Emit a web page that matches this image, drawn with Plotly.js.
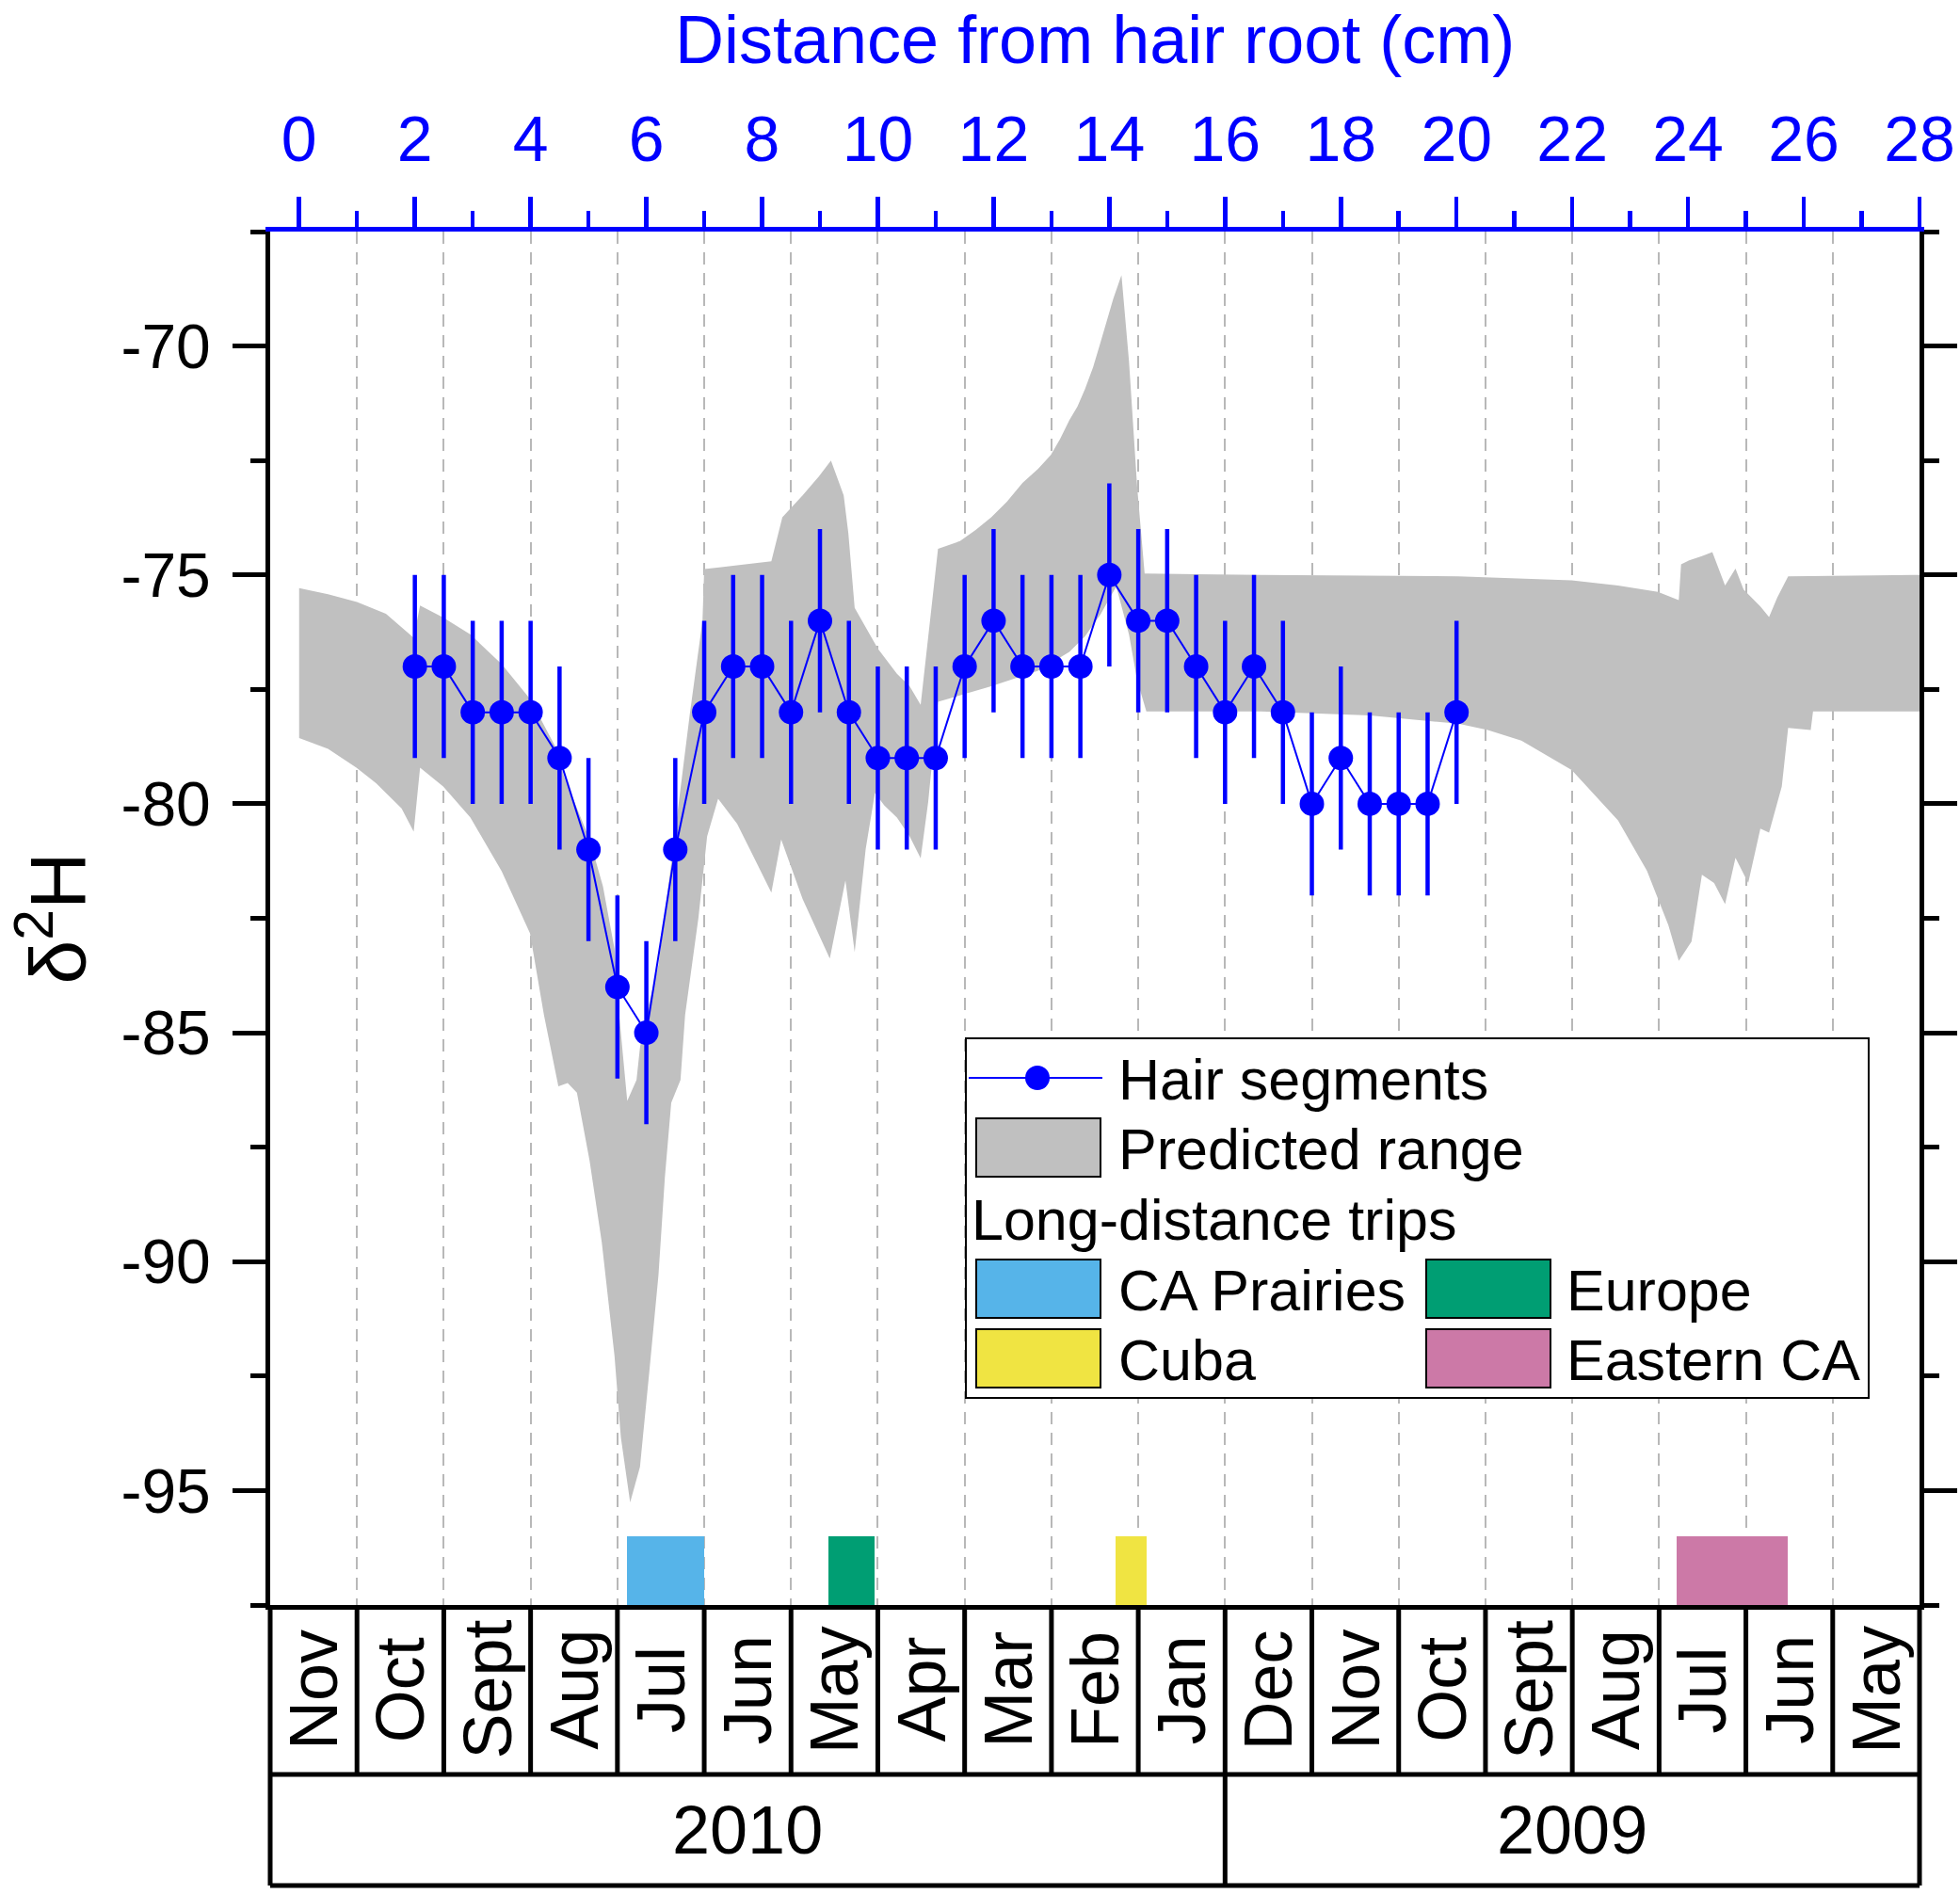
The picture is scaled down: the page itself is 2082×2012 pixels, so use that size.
<!DOCTYPE html>
<html><head><meta charset="utf-8">
<script src="https://cdn.plot.ly/plotly-3.0.1.min.js"></script>
<style>body{margin:0;background:#fff}</style>
</head><body>
<div id="chart" style="width:2082px;height:2012px"></div>
<script>
// ---------------- data ----------------
const segX = [2,2.5,3,3.5,4,4.5,5,5.5,6,6.5,7,7.5,8,8.5,9,9.5,10,10.5,11,11.5,12,12.5,13,13.5,14,14.5,15,15.5,16,16.5,17,17.5,18,18.5,19,19.5,20];
const segY = [-77,-77,-78,-78,-78,-79,-81,-84,-85,-81,-78,-77,-77,-78,-76,-78,-79,-79,-79,-77,-76,-77,-77,-77,-75,-76,-76,-77,-78,-77,-78,-80,-79,-80,-80,-80,-78];
const segErr = [2,2,2,2,2,2,2,2,2,2,2,2,2,2,2,2,2,2,2,2,2,2,2,2,2,2,2,2,2,2,2,2,2,2,2,2,2];

const bandUpperX = [0,0.5,1.0,1.5,1.98,2.09,2.49,2.96,3.5,3.99,4.42,4.58,5.02,5.25,5.45,5.53,5.67,5.83,5.89,6.0,6.21,6.48,6.75,6.97,7.0,7.5,8.16,8.35,8.7,8.98,9.19,9.41,9.49,9.6,9.79,10.0,10.33,10.55,10.74,11.04,11.42,11.69,11.96,12.23,12.5,12.77,12.99,13.15,13.31,13.45,13.58,13.72,13.85,13.96,14.07,14.21,14.34,14.48,14.61,16.62,20.03,21.99,22.79,23.48,23.84,23.88,24.02,24.24,24.42,24.64,24.82,24.96,25.25,25.4,25.54,25.73,28];
const bandUpperY = [-75.29,-75.42,-75.59,-75.85,-76.37,-75.67,-75.93,-76.30,-76.95,-77.71,-78.73,-79.41,-80.78,-81.8,-83.17,-84.61,-86.49,-86.03,-85.32,-84.61,-83.52,-80.78,-78.05,-76.0,-74.87,-74.8,-74.70,-73.74,-73.26,-72.85,-72.50,-73.26,-74.08,-75.72,-76.13,-76.61,-77.16,-77.43,-77.84,-74.43,-74.26,-74.02,-73.74,-73.4,-72.99,-72.68,-72.38,-72.03,-71.62,-71.32,-70.94,-70.46,-69.91,-69.44,-68.96,-68.45,-70.33,-73.06,-74.97,-75.0,-75.03,-75.12,-75.23,-75.37,-75.55,-74.77,-74.68,-74.59,-74.5,-75.23,-74.86,-75.32,-75.69,-75.92,-75.5,-75.03,-75.0];
const bandLowerX = [0,0.5,0.99,1.33,1.77,1.98,2.09,2.49,2.96,3.5,3.99,4.23,4.48,4.64,4.8,5.02,5.23,5.45,5.56,5.72,5.89,6.05,6.21,6.32,6.43,6.59,6.67,6.9,7.05,7.24,7.57,7.84,8.16,8.33,8.7,9.17,9.44,9.6,9.79,9.95,10.11,10.33,10.55,10.74,10.87,11.04,11.96,12.77,13.31,13.58,13.85,14.12,14.34,14.48,14.64,16.62,18.5,20.03,20.54,21.12,21.99,22.79,23.29,23.66,23.84,24.06,24.24,24.45,24.64,24.82,25.04,25.25,25.4,25.62,25.73,26.12,26.16,28];
const bandLowerY = [-78.56,-78.8,-79.21,-79.55,-80.10,-80.61,-79.21,-79.62,-80.30,-81.47,-82.83,-84.61,-86.17,-86.10,-86.31,-87.8,-89.58,-92.06,-93.84,-95.26,-94.48,-92.42,-90.29,-88.16,-86.53,-86.03,-84.61,-82.49,-80.71,-79.89,-80.44,-81.12,-81.94,-80.78,-82.08,-83.38,-81.67,-83.24,-80.99,-79.76,-80.03,-80.3,-80.71,-81.19,-79.96,-77.77,-77.43,-77.09,-76.68,-76.34,-75.86,-75.25,-76.3,-77.3,-77.98,-77.98,-78.07,-78.25,-78.39,-78.62,-79.26,-80.36,-81.46,-82.65,-83.43,-83.01,-81.55,-81.73,-82.19,-81.18,-81.73,-80.54,-80.63,-79.62,-78.34,-78.39,-77.98,-77.98];

const tripNames = ['CA Prairies','Europe','Cuba','Eastern CA'];
const tripStart = [5.66, 9.14, 14.1, 23.8];
const tripEnd = [7.0, 9.95, 14.65, 25.72];
const tripTop = [-96, -96, -96, -96];
const tripColors = ['#56B4E9','#009E73','#F0E442','#CC79A7'];

const monthLabels = ['Nov','Oct','Sept','Aug','Jul','Jun','May','Apr','Mar','Feb','Jan','Dec','Nov','Oct','Sept','Aug','Jul','Jun','May'];
const yearLabels = ['2010','2009'];
const yearMonthCounts = [11, 8];
const yTickVals = [-95, -90, -85, -80, -75, -70];
const yTickText = ['-95', '-90', '-85', '-80', '-75', '-70'];
const topTickVals = [0, 2, 4, 6, 8, 10, 12, 14, 16, 18, 20, 22, 24, 26, 28];

// ---------------- layout geometry ----------------
const W = 2082, H = 2012;
const L = 287, R = 2039, T = 246, B = 1705;
const xMin = -0.5, xMax = 28, yMin = -97.5, yMax = -67.5;
const monthWidth = 1.5;
const px2x = p => (p - L) / (R - L);
const px2y = p => (B - p) / (B - T);
const cm2paper = c => (c - xMin) / (xMax - xMin);
const FONT = '"Liberation Sans", Arial, sans-serif';
const BLUE = '#0000ff';

// ---------------- traces ----------------
const band = {
  x: bandUpperX.concat(bandLowerX.slice().reverse()),
  y: bandUpperY.concat(bandLowerY.slice().reverse()),
  type: 'scatter', mode: 'lines', fill: 'toself', fillcolor: '#c0c0c0',
  line: {width: 0, color: 'rgba(0,0,0,0)'}, hoverinfo: 'skip', showlegend: false
};
const trips = {
  type: 'bar',
  x: tripStart.map((s, i) => (s + tripEnd[i]) / 2),
  width: tripStart.map((s, i) => tripEnd[i] - s),
  base: tripTop.map(() => yMin),
  y: tripTop.map(t => t - yMin),
  marker: {color: tripColors, line: {width: 0}},
  hoverinfo: 'skip', showlegend: false
};
const seg = {
  x: segX, y: segY, type: 'scatter', mode: 'lines+markers',
  line: {color: BLUE, width: 2},
  marker: {color: BLUE, size: 26},
  error_y: {type: 'data', array: segErr, visible: true, color: BLUE, thickness: 4.5, width: 0},
  showlegend: false
};
const topDummy = {x: [0, 28], y: [yMin, yMin], xaxis: 'x2', yaxis: 'y', mode: 'markers',
  marker: {opacity: 0, size: 1}, hoverinfo: 'skip', showlegend: false};

// ---------------- shapes: month table ----------------
const shapes = [];
const rowMonthBottom = px2y(1885), rowYearBottom = px2y(2003);
const lineStyle = {color: '#000', width: 5};
let b = xMin;
const boundaries = [xMin];
for (let i = 0; i < monthLabels.length; i++) { b += monthWidth; boundaries.push(b); }
boundaries.forEach((c, i) => {
  const full = (i === 0 || i === boundaries.length - 1 || i === yearMonthCounts[0]);
  shapes.push({type: 'line', xref: 'paper', yref: 'paper', x0: cm2paper(c), x1: cm2paper(c),
    y0: 0, y1: full ? rowYearBottom : rowMonthBottom, line: lineStyle});
});
shapes.push({type: 'line', xref: 'paper', yref: 'paper', x0: 0, x1: 1, y0: rowMonthBottom, y1: rowMonthBottom, line: lineStyle});
shapes.push({type: 'line', xref: 'paper', yref: 'paper', x0: 0, x1: 1, y0: rowYearBottom, y1: rowYearBottom, line: lineStyle});

// ---------------- annotations ----------------
const ann = [];
monthLabels.forEach((m, i) => {
  ann.push({x: xMin + monthWidth * (i + 0.5), xref: 'x', y: px2y(1795), yref: 'paper',
    text: m, showarrow: false, textangle: -90, font: {family: FONT, size: 72, color: '#000'},
    xanchor: 'center', yanchor: 'middle'});
});
let startIdx = 0;
yearLabels.forEach((yl, i) => {
  const c0 = xMin + startIdx * monthWidth, c1 = c0 + yearMonthCounts[i] * monthWidth;
  startIdx += yearMonthCounts[i];
  ann.push({x: (c0 + c1) / 2, xref: 'x', y: px2y(1944), yref: 'paper', text: yl, showarrow: false,
    font: {family: FONT, size: 72, color: '#000'}, xanchor: 'center', yanchor: 'middle'});
});
ann.push({x: 0.5, xref: 'paper', y: px2y(0), yref: 'paper', text: 'Distance from hair root (cm)',
  showarrow: false, font: {family: FONT, size: 72, color: BLUE}, xanchor: 'center', yanchor: 'top'});
ann.push({x: px2x(55), xref: 'paper', y: 0.5, yref: 'paper', text: 'δ<sup>2</sup>H', textangle: -90,
  showarrow: false, font: {family: FONT, size: 84, color: '#000'}, xanchor: 'center', yanchor: 'middle'});

// ---------------- custom legend ----------------
const LF = {family: FONT, size: 61, color: '#000'};
shapes.push({type: 'rect', xref: 'paper', yref: 'paper', x0: px2x(1026), x1: px2x(1985), y0: px2y(1485), y1: px2y(1103),
  line: {color: '#000', width: 2}, fillcolor: '#fff', layer: 'above'});
shapes.push({type: 'line', xref: 'paper', yref: 'paper', x0: px2x(1029), x1: px2x(1171), y0: px2y(1145), y1: px2y(1145),
  line: {color: BLUE, width: 2}});
shapes.push({type: 'circle', xref: 'paper', yref: 'paper', x0: px2x(1089), x1: px2x(1115), y0: px2y(1158), y1: px2y(1132),
  line: {color: BLUE, width: 0}, fillcolor: BLUE});
const swatch = (x0, x1, yc, color) => shapes.push({type: 'rect', xref: 'paper', yref: 'paper',
  x0: px2x(x0), x1: px2x(x1), y0: px2y(yc + 31), y1: px2y(yc - 31), line: {color: '#000', width: 2}, fillcolor: color});
const ltext = (xp, yc, t) => ann.push({x: px2x(xp), xref: 'paper', y: px2y(yc), yref: 'paper', text: t,
  showarrow: false, font: LF, xanchor: 'left', yanchor: 'middle'});
ltext(1186, 1147, 'Hair segments');
swatch(1037, 1169, 1219, '#c0c0c0'); ltext(1186, 1221, 'Predicted range');
ltext(1030, 1296, 'Long-distance trips');
swatch(1037, 1169, 1369, tripColors[0]); ltext(1186, 1371, tripNames[0]);
swatch(1515, 1647, 1369, tripColors[1]); ltext(1662, 1371, tripNames[1]);
swatch(1037, 1169, 1443, tripColors[2]); ltext(1186, 1445, tripNames[2]);
swatch(1515, 1647, 1443, tripColors[3]); ltext(1662, 1445, tripNames[3]);

// ---------------- layout ----------------
const layout = {
  width: W, height: H,
  margin: {l: L, r: W - R, t: T, b: H - B, pad: 0},
  paper_bgcolor: '#fff', plot_bgcolor: '#fff',
  showlegend: false, bargap: 0,
  font: {family: FONT, color: '#000'},
  xaxis: {range: [xMin, xMax], tickmode: 'linear', tick0: 1, dtick: 1.5,
    showgrid: true, gridcolor: '#b8b8b8', gridwidth: 2, griddash: '13px,9px',
    showticklabels: false, ticks: '', zeroline: false,
    showline: true, linecolor: '#000', linewidth: 5, layer: 'below traces'},
  xaxis2: {range: [xMin, xMax], overlaying: 'x', side: 'top', anchor: 'y',
    tickmode: 'array', tickvals: topTickVals, ticktext: topTickVals.map(String),
    ticks: 'outside', ticklen: 32, tickwidth: 4.5, tickcolor: BLUE,
    minor: {dtick: 1, tick0: 0, ticks: 'outside', ticklen: 17, tickwidth: 4.5, tickcolor: BLUE},
    showline: true, linecolor: BLUE, linewidth: 5, showgrid: false, zeroline: false,
    tickfont: {family: FONT, size: 68, color: BLUE}, ticklabelstandoff: 11},
  yaxis: {range: [yMin, yMax], tickmode: 'array', tickvals: yTickVals, ticktext: yTickText,
    ticks: 'outside', ticklen: 35, tickwidth: 5, tickcolor: '#000',
    minor: {dtick: 2.5, tick0: -70, ticks: 'outside', ticklen: 16, tickwidth: 5, tickcolor: '#000'},
    showline: true, linecolor: '#000', linewidth: 5, mirror: 'ticks',
    showgrid: false, zeroline: false,
    tickfont: {family: FONT, size: 66, color: '#000'}, ticklabelstandoff: 10},
  shapes: shapes,
  annotations: ann
};

Plotly.newPlot('chart', [band, trips, seg, topDummy], layout, {displayModeBar: false, staticPlot: true});
</script>
</body></html>
